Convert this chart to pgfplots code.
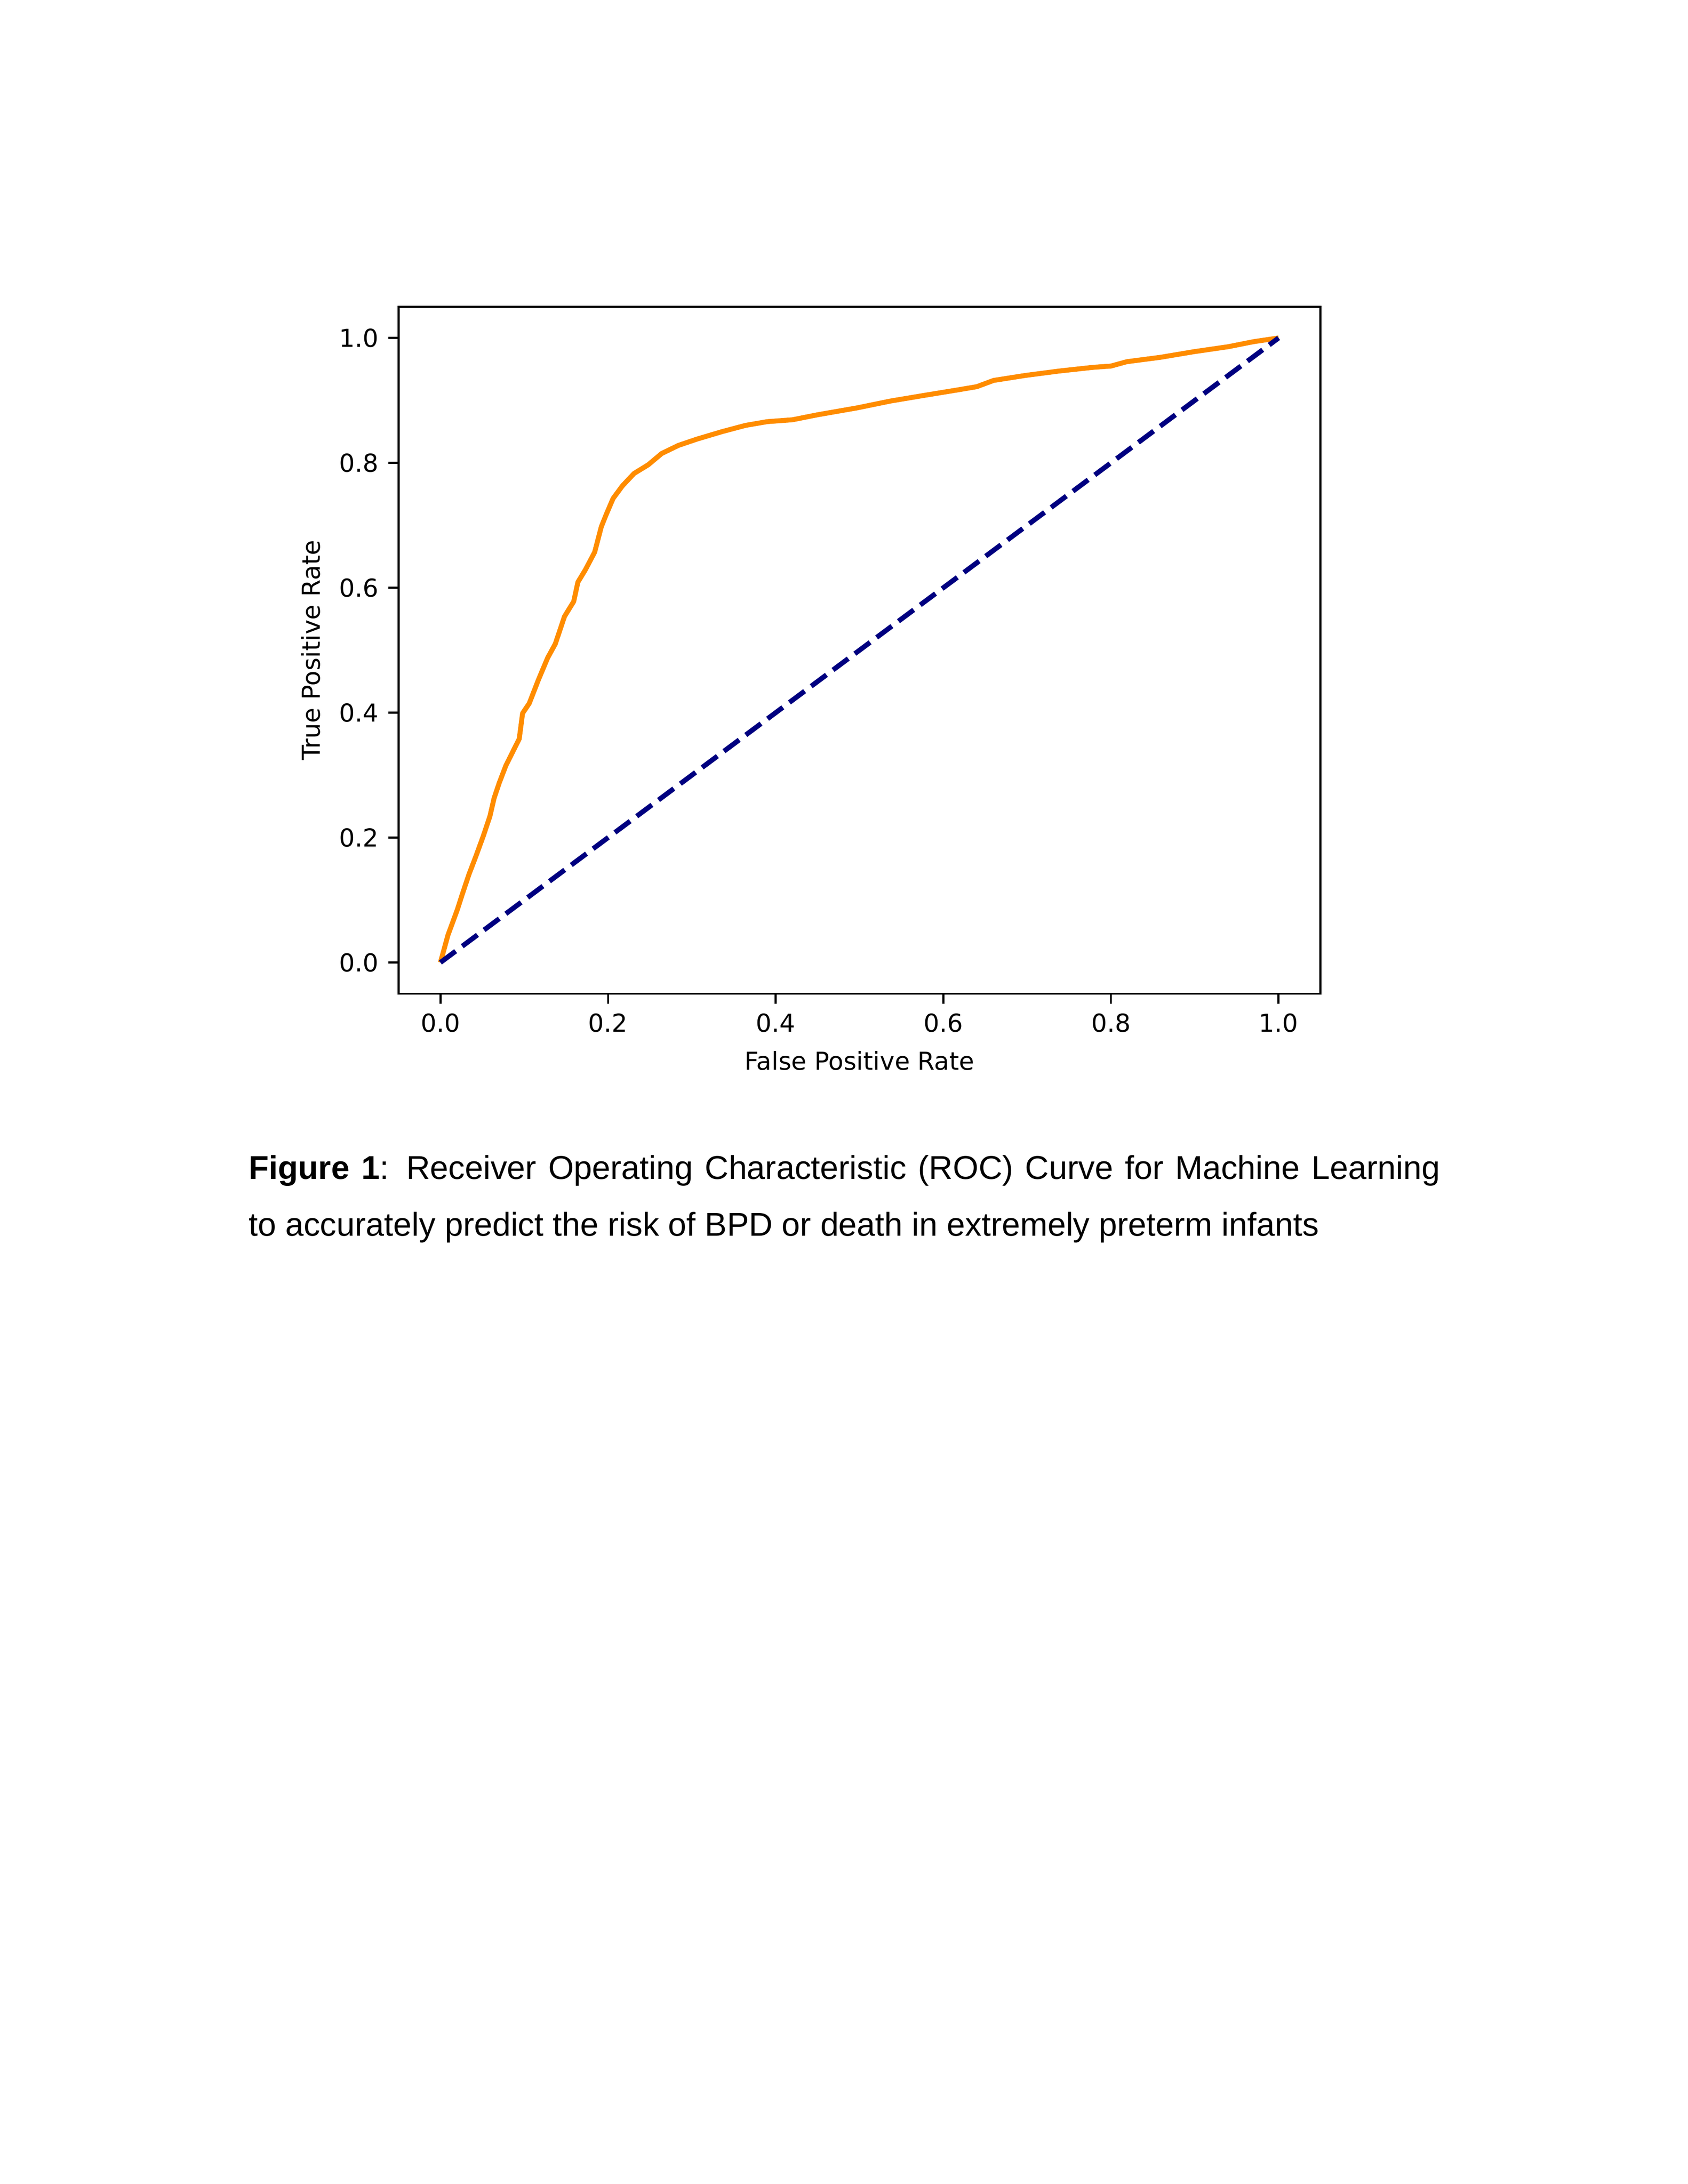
\documentclass[border=0pt]{standalone}
\usepackage{fontspec}
\setmainfont{Liberation Sans}
\newfontfamily\dejavu{DejaVu Sans}
\usepackage{pgfplots}
\pgfplotsset{compat=1.18}

\definecolor{rocorange}{RGB}{255,140,0}
\definecolor{navy}{RGB}{0,0,128}

% ROC curve (fpr, tpr)
\pgfplotstableread{
fpr tpr
0.000 0.000
0.009 0.044
0.020 0.084
0.026 0.109
0.034 0.141
0.042 0.169
0.051 0.202
0.059 0.234
0.064 0.263
0.070 0.287
0.078 0.315
0.088 0.342
0.094 0.358
0.098 0.399
0.106 0.415
0.117 0.453
0.128 0.488
0.137 0.510
0.148 0.554
0.159 0.578
0.164 0.609
0.173 0.629
0.184 0.657
0.192 0.698
0.198 0.718
0.206 0.743
0.217 0.763
0.231 0.783
0.248 0.797
0.264 0.815
0.284 0.828
0.306 0.838
0.336 0.850
0.364 0.860
0.390 0.866
0.420 0.869
0.450 0.877
0.497 0.888
0.537 0.899
0.577 0.908
0.618 0.917
0.640 0.922
0.660 0.932
0.698 0.940
0.738 0.947
0.779 0.953
0.800 0.955
0.819 0.962
0.859 0.969
0.899 0.978
0.940 0.986
0.970 0.994
1.000 1.000
}\roc

\begin{document}
\begin{tikzpicture}
\useasboundingbox (0,0) rectangle (8.5in,11in);
\begin{axis}[
    at={(2.007in,5.995in)}, anchor=south west,
    scale only axis,
    width=4.643in, height=3.46in,
    xmin=-0.05, xmax=1.05, ymin=-0.05, ymax=1.05,
    xtick={0,0.2,0.4,0.6,0.8,1},
    ytick={0,0.2,0.4,0.6,0.8,1},
    xtick pos=bottom, ytick pos=left,
    tick align=outside,
    major tick length=3.7pt,
    axis line style={line width=0.75pt},
    tick style={black, line width=0.75pt},
    /pgf/number format/assume math mode=true,
    ticklabel style={font=\dejavu\fontsize{9}{11}\selectfont,
        /pgf/number format/fixed,
        /pgf/number format/fixed zerofill,
        /pgf/number format/precision=1},
    label style={font=\dejavu\fontsize{9}{11}\selectfont},
    xlabel={False Positive Rate},
    ylabel={True Positive Rate},
]
\addplot[rocorange, line width=1.8pt, line join=round] table[x=fpr, y=tpr] {\roc};
\addplot[navy, line width=1.8pt, dash pattern=on 6.9pt off 3pt] coordinates {(0,0) (1,1)};
\end{axis}
\node[anchor=base west, inner sep=0pt, font=\fontsize{12}{14}\selectfont] at (1.25in,5.06in)
    {\hbox to 6in{\textbf{Figure 1}: Receiver Operating Characteristic (ROC) Curve for Machine Learning}};
\node[anchor=base west, inner sep=0pt, font=\fontsize{12}{14}\selectfont] at (1.25in,4.775in)
    {to accurately predict the risk of BPD or death in extremely preterm infants};
\end{tikzpicture}
\end{document}
